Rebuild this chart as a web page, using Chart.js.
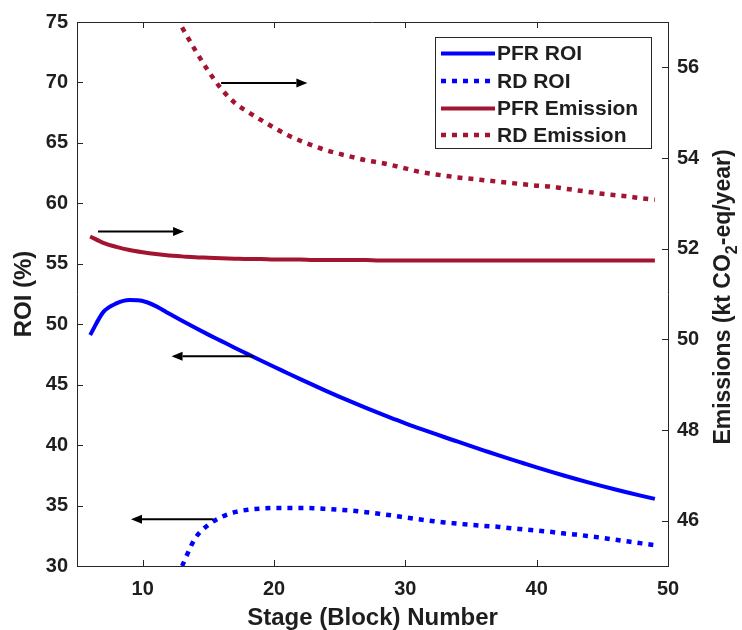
<!DOCTYPE html>
<html>
<head>
<meta charset="utf-8">
<script src="https://cdn.jsdelivr.net/npm/chart.js@4/dist/chart.umd.min.js"></script>
<style>
  html, body { margin: 0; padding: 0; background: #ffffff; }
  #wrap { width: 742px; height: 630px; }
</style>
</head>
<body>
<div id="wrap"><canvas id="chart" width="742" height="630"></canvas></div>
<script>
// Stage (block) numbers along the column
const stages = [6, 7, 8, 9, 10, 11, 12, 13, 14, 15, 16, 17, 18, 19, 20, 21, 22, 23, 24, 25, 26, 27,
                28, 29, 30, 31, 32, 33, 34, 35, 36, 37, 38, 39, 40, 41, 42, 43, 44, 45, 46, 47, 48, 49];

// Return on investment (%)
const pfrRoi = [49.1, 51.0, 51.72, 52.0, 51.92, 51.5, 50.88, 50.28, 49.7, 49.14, 48.6, 48.06, 47.53,
                47.0, 46.48, 45.97, 45.46, 44.96, 44.47, 43.99, 43.53, 43.08, 42.64, 42.22, 41.8, 41.41,
                41.03, 40.65, 40.28, 39.91, 39.55, 39.19, 38.84, 38.5, 38.16, 37.83, 37.51, 37.2, 36.9,
                36.61, 36.33, 36.06, 35.8, 35.55];
const rdRoi = [null, null, null, null, null, null, null, 30.0, 32.3, 33.4, 34.05, 34.45, 34.65, 34.75,
               34.8, 34.8, 34.8, 34.78, 34.72, 34.65, 34.57, 34.45, 34.32, 34.18, 34.02, 33.87, 33.73,
               33.6, 33.5, 33.4, 33.32, 33.25, 33.13, 33.03, 32.93, 32.83, 32.7, 32.6, 32.47, 32.33,
               32.17, 32.02, 31.87, 31.72];

// Emissions (kt CO2-eq/year)
const pfrEmission = [52.27, 52.13, 52.04, 51.97, 51.92, 51.88, 51.85, 51.83, 51.81, 51.80, 51.79, 51.78,
                     51.77, 51.77, 51.76, 51.76, 51.76, 51.75, 51.75, 51.75, 51.75, 51.75, 51.74, 51.74,
                     51.74, 51.74, 51.74, 51.74, 51.74, 51.74, 51.74, 51.74, 51.74, 51.74, 51.74, 51.74,
                     51.74, 51.74, 51.74, 51.74, 51.74, 51.74, 51.74, 51.74];
const rdEmission = [null, null, null, null, null, null, null, 56.88, 56.38, 55.92, 55.52, 55.22, 55.02,
                    54.84, 54.67, 54.51, 54.38, 54.27, 54.17, 54.09, 54.02, 53.95, 53.90, 53.84, 53.77,
                    53.70, 53.65, 53.61, 53.57, 53.54, 53.51, 53.48, 53.45, 53.42, 53.39, 53.37, 53.33,
                    53.29, 53.25, 53.21, 53.18, 53.15, 53.11, 53.08];

// Tick values
const stageTicks = [10, 20, 30, 40, 50];
const roiTicks = [30, 35, 40, 45, 50, 55, 60, 65, 70, 75];
const emissionTicks = [46, 48, 50, 52, 54, 56];

// Series names
const seriesNames = ['PFR ROI', 'RD ROI', 'PFR Emission', 'RD Emission'];

// Arrows telling which axis a curve belongs to: [stage at tail, stage at head, ROI level]
const arrowTail = [15.97, 6.6, 18.45, 15.38];
const arrowHead = [22.54, 13.15, 12.2, 9.11];
const arrowLevel = [69.95, 57.67, 47.35, 33.86];

const BLUE = '#0000ff';
const RED = '#a2142f';
const TEXT = '#1e1e1e';
const AXIS = '#262626';
const FAMILY = "'Liberation Sans', Arial, Helvetica, sans-serif";
const tickFont = { family: FAMILY, size: 20, weight: 'bold' };
const titleFont = { family: FAMILY, size: 24, weight: 'bold', lineHeight: 1.2 };
const DOTS = [5, 6];

const toPoints = vals => stages.map((s, i) => ({ x: s, y: vals[i] }));
const fixedTicks = list => scale => { scale.ticks = list.map(v => ({ value: v })); };

function lineSet(label, vals, color, axis, dashed) {
  return {
    label: label,
    data: toPoints(vals),
    yAxisID: axis,
    borderColor: color,
    backgroundColor: color,
    borderWidth: dashed ? 4.5 : 4,
    borderDash: dashed ? DOTS : [],
    borderCapStyle: 'butt',
    borderJoinStyle: 'round',
    cubicInterpolationMode: 'monotone',
    pointRadius: 0,
    pointHoverRadius: 0,
    fill: false,
    spanGaps: false
  };
}

// Box, inward tick marks and the top edge
const framePlugin = {
  id: 'frame',
  afterDatasetsDraw(chart) {
    const { ctx, chartArea: a, scales } = chart;
    const len = 6;
    ctx.save();
    ctx.strokeStyle = AXIS;
    ctx.lineWidth = 1;
    ctx.beginPath();
    ctx.moveTo(a.left, a.top + 0.5);
    ctx.lineTo(a.right, a.top + 0.5);
    scales.x.ticks.forEach(t => {
      const px = Math.round(scales.x.getPixelForValue(t.value)) + 0.5;
      ctx.moveTo(px, a.bottom); ctx.lineTo(px, a.bottom - len);
      ctx.moveTo(px, a.top); ctx.lineTo(px, a.top + len);
    });
    scales.y.ticks.forEach(t => {
      const py = Math.round(scales.y.getPixelForValue(t.value)) + 0.5;
      ctx.moveTo(a.left, py); ctx.lineTo(a.left + len, py);
    });
    scales.y2.ticks.forEach(t => {
      const py = Math.round(scales.y2.getPixelForValue(t.value)) + 0.5;
      ctx.moveTo(a.right, py); ctx.lineTo(a.right - len, py);
    });
    ctx.stroke();
    ctx.restore();
  }
};

// Arrows pointing to the relevant axis
const arrowPlugin = {
  id: 'arrows',
  afterDatasetsDraw(chart) {
    const { ctx, scales } = chart;
    ctx.save();
    ctx.strokeStyle = '#000000';
    ctx.fillStyle = '#000000';
    ctx.lineWidth = 2;
    arrowTail.forEach((tail, i) => {
      const x1 = scales.x.getPixelForValue(tail);
      const x2 = scales.x.getPixelForValue(arrowHead[i]);
      const y = scales.y.getPixelForValue(arrowLevel[i]);
      const dir = Math.sign(x2 - x1);
      const headLen = 11, headHalf = 4.5;
      ctx.beginPath();
      ctx.moveTo(x1, y);
      ctx.lineTo(x2 - dir * headLen, y);
      ctx.stroke();
      ctx.beginPath();
      ctx.moveTo(x2, y);
      ctx.lineTo(x2 - dir * headLen, y - headHalf);
      ctx.lineTo(x2 - dir * headLen, y + headHalf);
      ctx.closePath();
      ctx.fill();
    });
    ctx.restore();
  }
};

// Right-hand axis title with a subscript
const rightTitlePlugin = {
  id: 'rightTitle',
  afterDraw(chart) {
    const { ctx, chartArea: a } = chart;
    const parts = [
      { text: 'Emissions (kt CO', size: 23, shift: 0 },
      { text: '2', size: 16, shift: 7 },
      { text: '-eq/year)', size: 23, shift: 0 }
    ];
    ctx.save();
    let total = 0;
    parts.forEach(p => {
      ctx.font = `bold ${p.size}px ${FAMILY}`;
      p.w = ctx.measureText(p.text).width;
      total += p.w;
    });
    ctx.translate(730, (a.top + a.bottom) / 2 + 3);
    ctx.rotate(-Math.PI / 2);
    ctx.fillStyle = TEXT;
    ctx.textBaseline = 'alphabetic';
    ctx.textAlign = 'left';
    let x = -total / 2;
    parts.forEach(p => {
      ctx.font = `bold ${p.size}px ${FAMILY}`;
      ctx.fillText(p.text, x, p.shift);
      x += p.w;
    });
    ctx.restore();
  }
};

// Legend box in the upper right of the plot
const legendPlugin = {
  id: 'boxLegend',
  afterDraw(chart) {
    const { ctx } = chart;
    const box = { left: 435.5, top: 37.5, right: 651.5, bottom: 148.5 };
    const rowY = [53.5, 81, 108.5, 135];
    ctx.save();
    ctx.fillStyle = '#ffffff';
    ctx.fillRect(box.left, box.top, box.right - box.left, box.bottom - box.top);
    ctx.strokeStyle = AXIS;
    ctx.lineWidth = 1;
    ctx.strokeRect(box.left, box.top, box.right - box.left, box.bottom - box.top);
    chart.data.datasets.forEach((ds, i) => {
      const y = rowY[i];
      ctx.strokeStyle = ds.borderColor;
      ctx.lineWidth = ds.borderWidth;
      ctx.lineCap = 'butt';
      ctx.setLineDash(ds.borderDash || []);
      ctx.beginPath();
      ctx.moveTo(441, y);
      ctx.lineTo(495, y);
      ctx.stroke();
      ctx.setLineDash([]);
      ctx.fillStyle = TEXT;
      ctx.font = `bold 21px ${FAMILY}`;
      ctx.textBaseline = 'middle';
      ctx.textAlign = 'left';
      ctx.fillText(seriesNames[i], 497, y + 1);
    });
    ctx.restore();
  }
};

new Chart(document.getElementById('chart'), {
  type: 'line',
  data: {
    datasets: [
      lineSet(seriesNames[0], pfrRoi, BLUE, 'y', false),
      lineSet(seriesNames[1], rdRoi, BLUE, 'y', true),
      lineSet(seriesNames[2], pfrEmission, RED, 'y2', false),
      lineSet(seriesNames[3], rdEmission, RED, 'y2', true)
    ]
  },
  options: {
    responsive: false,
    animation: false,
    devicePixelRatio: 1,
    layout: { padding: { top: 22, left: 0, right: 0, bottom: 0 } },
    plugins: { legend: { display: false }, tooltip: { enabled: false } },
    scales: {
      x: {
        type: 'linear', position: 'bottom', min: 5, max: 50,
        afterBuildTicks: fixedTicks(stageTicks),
        afterFit: s => { s.height = 64; },
        grid: { display: false, drawTicks: false },
        border: { display: true, color: AXIS, width: 1 },
        ticks: { font: tickFont, color: TEXT, padding: 11, maxRotation: 0 },
        title: { display: true, text: 'Stage (Block) Number', font: titleFont, color: TEXT,
                 padding: { top: 0, bottom: -3 } }
      },
      y: {
        type: 'linear', position: 'left', min: 30, max: 75,
        afterBuildTicks: fixedTicks(roiTicks),
        afterFit: s => { s.width = 77; },
        grid: { display: false, drawTicks: false },
        border: { display: true, color: AXIS, width: 1 },
        ticks: { font: tickFont, color: TEXT, padding: 9 },
        title: { display: true, text: 'ROI (%)', font: titleFont, color: TEXT,
                 padding: { top: 10, bottom: 0 } }
      },
      y2: {
        type: 'linear', position: 'right', min: 45, max: 57,
        afterBuildTicks: fixedTicks(emissionTicks),
        afterFit: s => { s.width = 74; },
        grid: { display: false, drawTicks: false },
        border: { display: true, color: AXIS, width: 1 },
        ticks: { font: tickFont, color: TEXT, padding: 9 }
      }
    }
  },
  plugins: [framePlugin, arrowPlugin, rightTitlePlugin, legendPlugin]
});
</script>
</body>
</html>
